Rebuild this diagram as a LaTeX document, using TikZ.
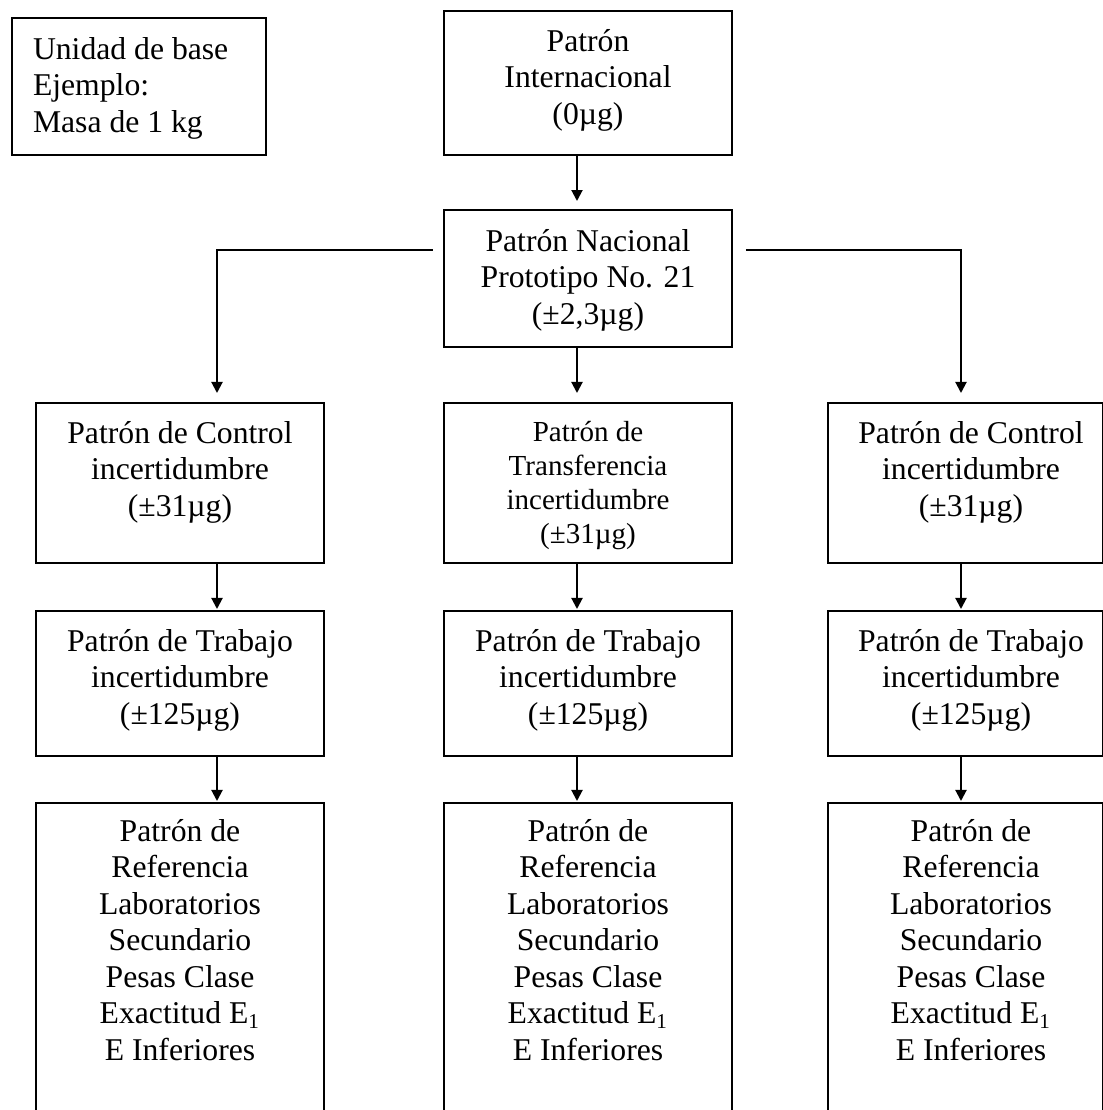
\documentclass[tikz,border=0pt]{standalone}
\usepackage{fontspec}
\setmainfont{Liberation Serif}
\usetikzlibrary{arrows.meta}

% one drawing unit (0.3788pt)
\newdimen\pxu \pxu=0.3788pt

% centred box text: width, height, depth of first baseline, centre shift, lines
\newcommand\cbox[5]{\parbox[c][#2\pxu][t]{#1\pxu}{\centering\leftskip=#4\pxu plus 1fil\relax\rule{0pt}{#3\pxu}#5}}
% left-aligned box text: width, height, depth of first baseline, lines
\newcommand\lbox[4]{\parbox[c][#2\pxu][t]{#1\pxu}{\raggedright\leftskip=21\pxu\relax\rule{0pt}{#3\pxu}#4}}

\tikzset{
  box/.style={draw, line width=0.76pt, inner sep=0pt, anchor=north west,
              font=\fontsize{12}{13.83}\selectfont},
  link/.style={line width=0.76pt, -{Triangle[length=4.17pt,width=4.17pt]}},
}

\begin{document}
\begin{tikzpicture}[x=0.3788pt, y=-0.3788pt]
\useasboundingbox (0,0) rectangle (1103,1110);
\clip (0,0) rectangle (1103,1110);

% column lines and the branching level
\coordinate (colL) at (217,0);
\coordinate (colM) at (577,0);
\coordinate (colR) at (961,0);
\coordinate (hub)  at (0,250);

% top level
\node[box] (base) at (11,17)
  {\lbox{254}{137}{41}{Unidad de base\\Ejemplo:\\Masa de 1 kg}};
\node[box] (intl) at (443,10)
  {\cbox{288}{144}{40}{0}{Patrón\\Internacional\\(0µg)}};
\node[box] (nac) at (443,209)
  {\cbox{288}{137}{41}{0}{Patrón Nacional\\Prototipo No. 21\\(±2,3µg)}};

% second level
\node[box] (ctlL) at (35,402)
  {\cbox{288}{160}{40}{0}{Patrón de Control\\incertidumbre\\(±31µg)}};
\node[box, font=\fontsize{11}{13}\selectfont] (trf) at (443,402)
  {\cbox{288}{160}{38}{0}{Patrón de\\Transferencia\\incertidumbre\\(±31µg)}};
\node[box] (ctlR) at (827,402)
  {\cbox{275}{160}{40}{11}{Patrón de Control\\incertidumbre\\(±31µg)}};

% working standards
\node[box] (wkL) at (35,610)
  {\cbox{288}{145}{40}{0}{Patrón de Trabajo\\incertidumbre\\(±125µg)}};
\node[box] (wkM) at (443,610)
  {\cbox{288}{145}{40}{0}{Patrón de Trabajo\\incertidumbre\\(±125µg)}};
\node[box] (wkR) at (827,610)
  {\cbox{275}{145}{40}{11}{Patrón de Trabajo\\incertidumbre\\(±125µg)}};

% reference standards
\node[box] (refL) at (35,802)
  {\cbox{288}{330}{38}{0}{Patrón de\\Referencia\\Laboratorios\\Secundario\\Pesas Clase\\Exactitud E\textsubscript{1}\\E Inferiores}};
\node[box] (refM) at (443,802)
  {\cbox{288}{330}{38}{0}{Patrón de\\Referencia\\Laboratorios\\Secundario\\Pesas Clase\\Exactitud E\textsubscript{1}\\E Inferiores}};
\node[box] (refR) at (827,802)
  {\cbox{275}{330}{38}{11}{Patrón de\\Referencia\\Laboratorios\\Secundario\\Pesas Clase\\Exactitud E\textsubscript{1}\\E Inferiores}};

% connectors
\draw[link, shorten >=3.03pt] (intl.south -| colM) -- (nac.north -| colM);
\draw[link, shorten >=3.41pt] ([xshift=-3.79pt]nac.west |- hub) -| (ctlL.north -| colL);
\draw[link, shorten >=3.41pt] ([xshift=4.92pt]nac.east |- hub) -| (ctlR.north -| colR);
\draw[link, shorten >=3.41pt] (nac.south -| colM) -- (trf.north -| colM);

\draw[link, shorten >=0.38pt] (ctlL.south -| colL) -- (wkL.north -| colL);
\draw[link, shorten >=0.38pt] (trf.south -| colM) -- (wkM.north -| colM);
\draw[link, shorten >=0.38pt] (ctlR.south -| colR) -- (wkR.north -| colR);

\draw[link, shorten >=0.38pt] (wkL.south -| colL) -- (refL.north -| colL);
\draw[link, shorten >=0.38pt] (wkM.south -| colM) -- (refM.north -| colM);
\draw[link, shorten >=0.38pt] (wkR.south -| colR) -- (refR.north -| colR);
\end{tikzpicture}
\end{document}
